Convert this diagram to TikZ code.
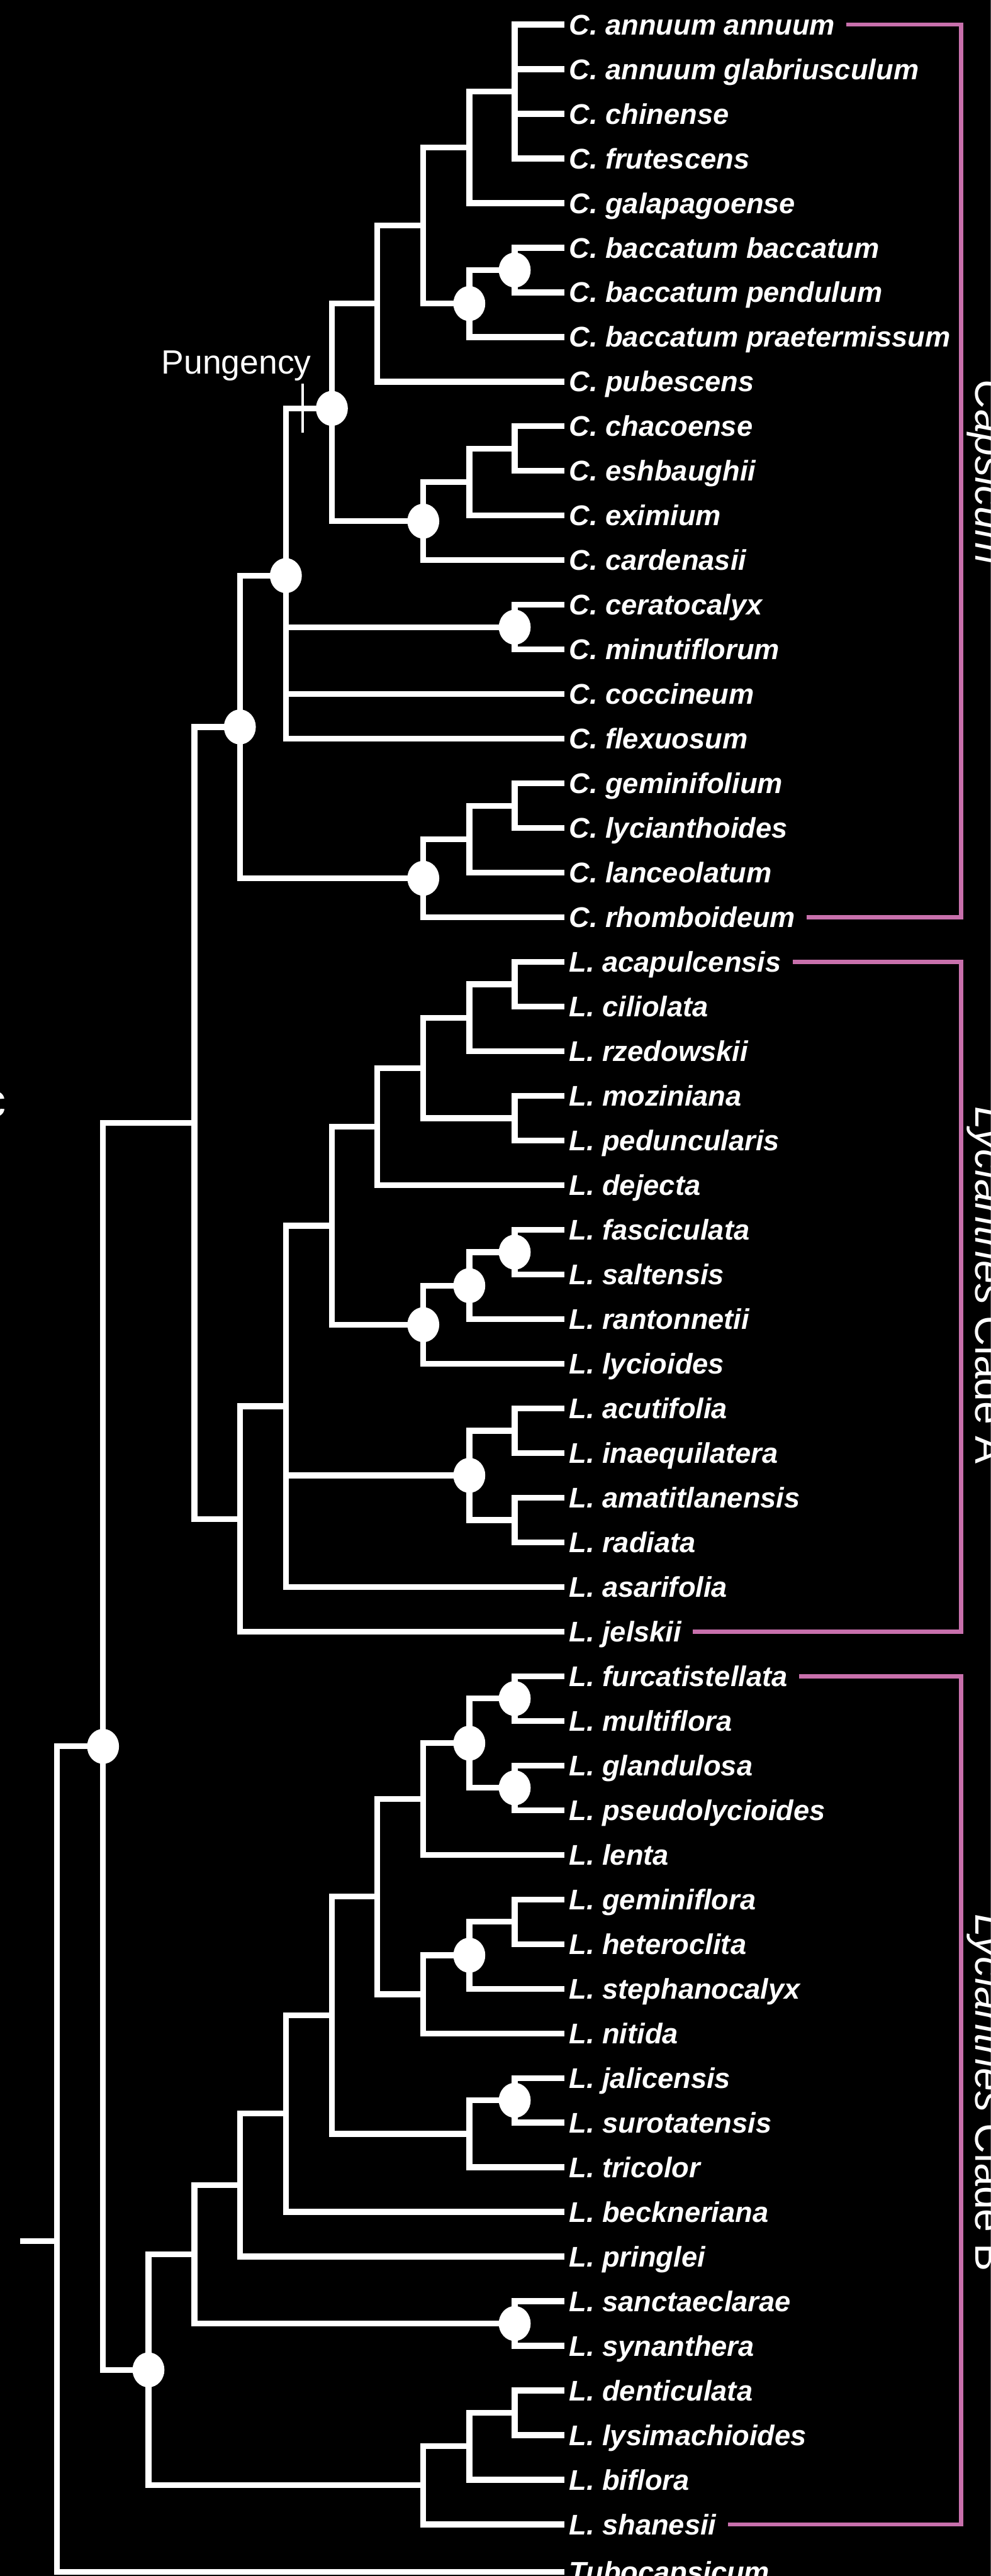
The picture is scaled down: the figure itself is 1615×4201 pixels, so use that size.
\documentclass[tikz,border=0pt]{standalone}
\usepackage{fontspec}
\setmainfont{Liberation Sans}
\usetikzlibrary{positioning, calc, shapes.geometric}

\definecolor{cladepink}{RGB}{200,112,172}

\begin{document}
\begin{tikzpicture}[x=0.01cm, y=-0.01cm,
        clade/.style={every edge/.style={draw=white, line width=0.095cm,
            to path={|- (\tikztotarget)}}},
        leaf/.style={anchor=base west, inner sep=0pt, text=white,
            font=\fontsize{13.2}{15}\selectfont\bfseries\itshape},
        support/.style={ellipse, fill=white, inner sep=0pt,
            minimum width=0.52cm, minimum height=0.57cm},
        bracket/.style={draw=cladepink, line width=0.07cm},
        clade label/.style={rotate=-90, anchor=base, text=white,
            font=\fontsize{19.3}{22}\selectfont},
        trait/.style={text=white, inner sep=0pt,
            font=\fontsize{15.6}{18}\selectfont}]

  \useasboundingbox (0,0) rectangle (1615,4201);
  \clip (0,0) rectangle (1615,4201);
  \fill[black] (0,0) rectangle (1615,4201);

  % taxa
  \foreach \taxon [count=\i from 0] in {C. annuum annuum, C. annuum glabriusculum,
      C. chinense, C. frutescens, C. galapagoense, C. baccatum baccatum,
      C. baccatum pendulum, C. baccatum praetermissum, C. pubescens, C. chacoense,
      C. eshbaughii, C. eximium, C. cardenasii, C. ceratocalyx, C. minutiflorum,
      C. coccineum, C. flexuosum, C. geminifolium, C. lycianthoides, C. lanceolatum,
      C. rhomboideum, L. acapulcensis, L. ciliolata, L. rzedowskii, L. moziniana,
      L. peduncularis, L. dejecta, L. fasciculata, L. saltensis, L. rantonnetii,
      L. lycioides, L. acutifolia, L. inaequilatera, L. amatitlanensis, L. radiata,
      L. asarifolia, L. jelskii, L. furcatistellata, L. multiflora, L. glandulosa,
      L. pseudolycioides, L. lenta, L. geminiflora, L. heteroclita, L. stephanocalyx,
      L. nitida, L. jalicensis, L. surotatensis, L. tricolor, L. beckneriana,
      L. pringlei, L. sanctaeclarae, L. synanthera, L. denticulata,
      L. lysimachioides, L. biflora, L. shanesii}{
    \coordinate (t\i) at (920,{40+72.8*\i});
    \node[leaf] (l\i) at (927,{56.5+72.8*\i}) {\taxon};
  }
  \coordinate (t57) at (920,4194);
  \node[leaf] (l57) at (927,4210.5) {Tubocapsicum};

  % internal nodes
  \coordinate (root) at (93,3655);
  \coordinate (stub) at (33,3655);
  \coordinate (ingroup) at (168,2848);
  \coordinate (cl) at (317,1831.3);

  \coordinate (c1) at (839,149.2);
  \coordinate (c2) at (765,240.2);
  \coordinate (c3) at (839,440.4);
  \coordinate (c4) at (765,495);
  \coordinate (c5) at (690,367.6);
  \coordinate (c6) at (615,495);
  \coordinate (c7) at (839,731.6);
  \coordinate (c8) at (765,786.2);
  \coordinate (c9) at (690,849.9);
  \coordinate (c10) at (541,666);
  \coordinate (c11) at (839,1022.8);
  \coordinate (c12) at (466,938.7);
  \coordinate (c13) at (839,1314);
  \coordinate (c14) at (765,1368.6);
  \coordinate (c15) at (690,1432.3);
  \coordinate (c16) at (391,1185.5);

  \coordinate (a1) at (839,1605.2);
  \coordinate (a2) at (765,1659.8);
  \coordinate (a3) at (839,1823.6);
  \coordinate (a4) at (690,1741.7);
  \coordinate (a5) at (615,1837.3);
  \coordinate (a6) at (839,2042);
  \coordinate (a7) at (765,2096.6);
  \coordinate (a8) at (690,2160.3);
  \coordinate (a9) at (541,1998.8);
  \coordinate (a10) at (839,2333.2);
  \coordinate (a11) at (839,2478.8);
  \coordinate (a12) at (765,2406);
  \coordinate (a13) at (466,2293.4);
  \coordinate (a14) at (391,2477.1);

  \coordinate (b1) at (839,2770);
  \coordinate (b2) at (839,2915.6);
  \coordinate (b3) at (765,2842.8);
  \coordinate (b4) at (690,2933.8);
  \coordinate (b5) at (839,3134);
  \coordinate (b6) at (765,3188.6);
  \coordinate (b7) at (690,3252.3);
  \coordinate (b8) at (615,3093.1);
  \coordinate (b9) at (839,3425.2);
  \coordinate (b10) at (765,3479.8);
  \coordinate (b11) at (541,3286.5);
  \coordinate (b12) at (466,3446.9);
  \coordinate (b13) at (391,3563.5);
  \coordinate (b14) at (839,3789.2);
  \coordinate (b15) at (317,3676.4);
  \coordinate (b16) at (839,3934.8);
  \coordinate (b17) at (765,3989.4);
  \coordinate (b18) at (690,4053.1);
  \coordinate (b19) at (242,3864.8);

  % branches
  \draw[white, line width=0.095cm] (stub) -- (root);
  \path[clade]
    (root) edge (ingroup)  (root) edge (t57)
    (ingroup) edge (cl)    (ingroup) edge (b19)
    (cl) edge (c16)        (cl) edge (a14);

  \path[clade]
    (c1) edge (t0)   (c1) edge (t1)   (c1) edge (t2)   (c1) edge (t3)
    (c2) edge (c1)   (c2) edge (t4)
    (c3) edge (t5)   (c3) edge (t6)
    (c4) edge (c3)   (c4) edge (t7)
    (c5) edge (c2)   (c5) edge (c4)
    (c6) edge (c5)   (c6) edge (t8)
    (c7) edge (t9)   (c7) edge (t10)
    (c8) edge (c7)   (c8) edge (t11)
    (c9) edge (c8)   (c9) edge (t12)
    (c10) edge (c6)  (c10) edge (c9)
    (c11) edge (t13) (c11) edge (t14)
    (c12) edge (c10) (c12) edge (c11) (c12) edge (t15) (c12) edge (t16)
    (c13) edge (t17) (c13) edge (t18)
    (c14) edge (c13) (c14) edge (t19)
    (c15) edge (c14) (c15) edge (t20)
    (c16) edge (c12) (c16) edge (c15);

  \path[clade]
    (a1) edge (t21)  (a1) edge (t22)
    (a2) edge (a1)   (a2) edge (t23)
    (a3) edge (t24)  (a3) edge (t25)
    (a4) edge (a2)   (a4) edge (a3)
    (a5) edge (a4)   (a5) edge (t26)
    (a6) edge (t27)  (a6) edge (t28)
    (a7) edge (a6)   (a7) edge (t29)
    (a8) edge (a7)   (a8) edge (t30)
    (a9) edge (a5)   (a9) edge (a8)
    (a10) edge (t31) (a10) edge (t32)
    (a11) edge (t33) (a11) edge (t34)
    (a12) edge (a10) (a12) edge (a11)
    (a13) edge (a9)  (a13) edge (a12) (a13) edge (t35)
    (a14) edge (a13) (a14) edge (t36);

  \path[clade]
    (b1) edge (t37)  (b1) edge (t38)
    (b2) edge (t39)  (b2) edge (t40)
    (b3) edge (b1)   (b3) edge (b2)
    (b4) edge (b3)   (b4) edge (t41)
    (b5) edge (t42)  (b5) edge (t43)
    (b6) edge (b5)   (b6) edge (t44)
    (b7) edge (b6)   (b7) edge (t45)
    (b8) edge (b4)   (b8) edge (b7)
    (b9) edge (t46)  (b9) edge (t47)
    (b10) edge (b9)  (b10) edge (t48)
    (b11) edge (b8)  (b11) edge (b10)
    (b12) edge (b11) (b12) edge (t49)
    (b13) edge (b12) (b13) edge (t50)
    (b14) edge (t51) (b14) edge (t52)
    (b15) edge (b13) (b15) edge (b14)
    (b16) edge (t53) (b16) edge (t54)
    (b17) edge (b16) (b17) edge (t55)
    (b18) edge (b17) (b18) edge (t56)
    (b19) edge (b15) (b19) edge (b18);

  % supported nodes
  \foreach \n in {c3,c4,c9,c10,c11,c12,c15,c16,a6,a7,a8,a12,
                  b1,b2,b3,b6,b9,b14,b19,ingroup}
    \node[support] at (\n) {};

  % pungency
  \coordinate (pgmark) at (493,666);
  \draw[white, line width=0.04cm] ($(pgmark)+(0,-40)$) -- ($(pgmark)+(0,40)$);
  \node[trait, anchor=base east] (pungency) at ($(pgmark)+(15,-56)$) {Pungency};

  % clades
  \coordinate (bk) at (1567,0);
  \draw[bracket] ($(l0.east |- t0)+(18,0)$) -- (bk |- t0)
    -- (bk |- t20) -- ($(l20.east |- t20)+(18,0)$);
  \draw[bracket] ($(l21.east |- t21)+(18,0)$) -- (bk |- t21)
    -- (bk |- t36) -- ($(l36.east |- t36)+(18,0)$);
  \draw[bracket] ($(l37.east |- t37)+(18,0)$) -- (bk |- t37)
    -- (bk |- t56) -- ($(l56.east |- t56)+(18,0)$);

  \node[clade label] (capsicum) at (1590,770) {\textit{Capsicum}};
  \node[clade label] (cladeA) at (1590,2096) {\textit{Lycianthes} Clade A};
  \node[clade label] (cladeB) at (1590,3413) {\textit{Lycianthes} Clade B};

  \node[trait, anchor=east, font=\fontsize{21.6}{24}\selectfont] (edgec) at (10,1801) {c};

\end{tikzpicture}
\end{document}
